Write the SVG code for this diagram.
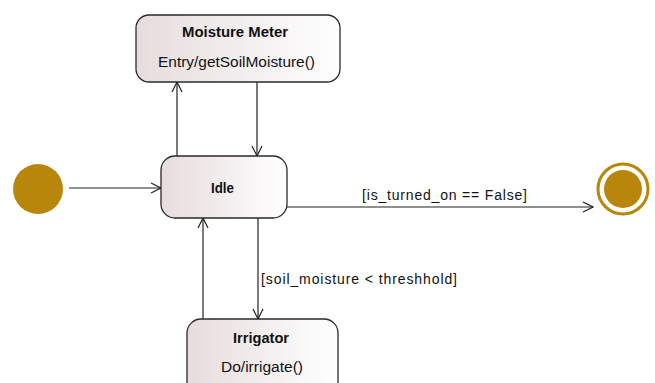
<svg xmlns="http://www.w3.org/2000/svg" width="655" height="383" viewBox="0 0 655 383">
  <defs>
    <linearGradient id="stateFill" x1="0" y1="0" x2="1" y2="0">
      <stop offset="0" stop-color="#e6dcdd"/>
      <stop offset="1" stop-color="#ffffff"/>
    </linearGradient>
    <marker id="open" viewBox="0 0 12 12" refX="11" refY="6" markerWidth="12" markerHeight="12" markerUnits="userSpaceOnUse" orient="auto">
      <path d="M1,1 L11,6 L1,11" fill="none" stroke="#222" stroke-width="1.2"/>
    </marker>
  </defs>
  <style>
    .state { fill: url(#stateFill); stroke: #2a2a2a; stroke-width: 1.3; }
    .name { font-family: "Liberation Sans", Arial, sans-serif; font-size: 14px; font-weight: bold; fill: #111; text-anchor: middle; }
    .act { font-family: "Liberation Sans", Arial, sans-serif; font-size: 14px; fill: #111; text-anchor: middle; }
    .guard { font-family: "Liberation Sans", Arial, sans-serif; font-size: 14px; fill: #111; }
    .edge { fill: none; stroke: #222; stroke-width: 1.2; marker-end: url(#open); }
  </style>
  <rect width="655" height="383" fill="#ffffff"/>

  <g id="connectors">
    <line class="edge" x1="69" y1="188" x2="161" y2="188"/>
    <line class="edge" x1="177" y1="156" x2="177" y2="82"/>
    <line class="edge" x1="257" y1="82" x2="257" y2="156"/>
    <line class="edge" x1="287" y1="207" x2="593" y2="207"/>
    <line class="edge" x1="258" y1="218" x2="258" y2="319"/>
    <line class="edge" x1="203" y1="319" x2="203" y2="218"/>
    <text class="guard" x="362" y="200" textLength="165" lengthAdjust="spacing">[is_turned_on == False]</text>
    <text class="guard" x="261" y="284" textLength="196" lengthAdjust="spacing">[soil_moisture &lt; threshhold]</text>
  </g>

  <g id="initial">
    <circle cx="38" cy="189" r="25" fill="#b8860b"/>
  </g>

  <g id="final">
    <circle cx="623" cy="189" r="25" fill="#ffffff" stroke="#b8860b" stroke-width="3"/>
    <circle cx="623" cy="189" r="19" fill="#b8860b"/>
  </g>

  <g id="moisture-meter">
    <rect class="state" x="136" y="15" width="204" height="67" rx="13"/>
    <text class="name" x="235" y="37" textLength="106" lengthAdjust="spacingAndGlyphs">Moisture Meter</text>
    <text class="act" x="236.5" y="67" textLength="157" lengthAdjust="spacingAndGlyphs">Entry/getSoilMoisture()</text>
  </g>

  <g id="idle">
    <rect class="state" x="161" y="156" width="126" height="62" rx="14"/>
    <text class="name" x="222.5" y="193" textLength="23" lengthAdjust="spacingAndGlyphs">Idle</text>
  </g>

  <g id="irrigator">
    <rect class="state" x="187" y="319" width="151" height="80" rx="14"/>
    <text class="name" x="261" y="343" textLength="56" lengthAdjust="spacingAndGlyphs">Irrigator</text>
    <text class="act" x="262" y="372" textLength="82" lengthAdjust="spacingAndGlyphs">Do/irrigate()</text>
  </g>
</svg>
